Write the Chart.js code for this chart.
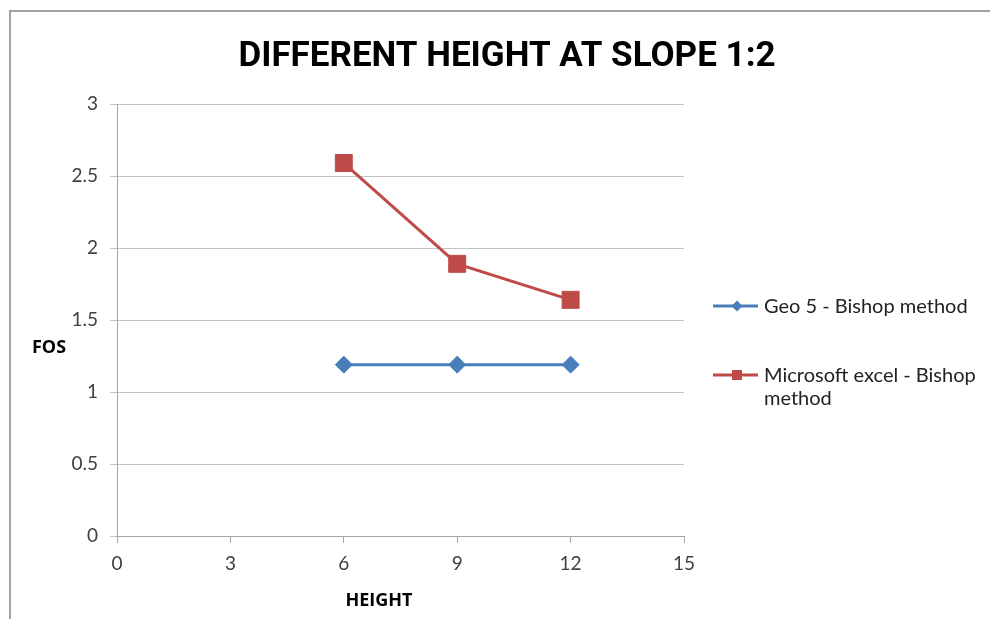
<!DOCTYPE html>
<html>
<head>
<meta charset="utf-8">
<script src="https://cdn.jsdelivr.net/npm/chart.js@4.4.1/dist/chart.umd.min.js"></script>
<style>
  html, body { margin: 0; padding: 0; background: #ffffff; }
  #wrap { position: relative; width: 990px; height: 619px; overflow: hidden; }
  #frame { position: absolute; left: 9px; top: 10px; width: 990px; height: 620px;
           border-left: 2px solid #a2a2a2; border-top: 2px solid #a2a2a2; pointer-events: none; }
  canvas { position: absolute; left: 0; top: 0; }
</style>
</head>
<body>
<div id="wrap">
  <canvas id="chart" width="990" height="619"></canvas>
  <div id="frame"></div>
</div>
<script>
// Slope height vs. factor of safety
const heights = [6, 9, 12];
const geo5Fos = [1.19, 1.19, 1.19];
const excelFos = [2.59, 1.89, 1.64];
const seriesLabels = ['Geo 5 - Bishop method', 'Microsoft excel - Bishop method'];
const chartTitle = 'DIFFERENT HEIGHT AT SLOPE 1:2';
const xAxisTitle = 'HEIGHT';
const yAxisTitle = 'FOS';

const BLUE = '#4a7ebb';
const RED = '#be4b48';
const TEXT = '#404040';
const GRID = '#c3c3c3';
const TICK_FONT = { family: 'Lato, "Open Sans", sans-serif', size: 19 };

const toPoints = (xs, ys) => xs.map((x, i) => ({ x: x, y: ys[i] }));

// Draws a legend marker (line with point) at the given position
function drawMarker(ctx, style, color, cx, cy) {
  ctx.save();
  ctx.strokeStyle = color;
  ctx.lineWidth = 3;
  ctx.beginPath();
  ctx.moveTo(cx - 24, cy);
  ctx.lineTo(cx + 21, cy);
  ctx.stroke();
  ctx.fillStyle = color;
  ctx.beginPath();
  if (style === 'rectRot') {
    const r = 5.5;
    ctx.moveTo(cx, cy - r);
    ctx.lineTo(cx + r, cy);
    ctx.lineTo(cx, cy + r);
    ctx.lineTo(cx - r, cy);
    ctx.closePath();
  } else {
    ctx.rect(cx - 5, cy - 5, 10, 10);
  }
  ctx.fill();
  ctx.restore();
}

// Wraps text into lines that fit maxWidth
function wrapText(ctx, text, maxWidth) {
  const words = text.split(' ');
  const lines = [];
  let line = '';
  words.forEach(w => {
    const test = line ? line + ' ' + w : w;
    if (ctx.measureText(test).width > maxWidth && line) {
      lines.push(line);
      line = w;
    } else {
      line = test;
    }
  });
  if (line) lines.push(line);
  return lines;
}

const decorations = {
  id: 'decorations',
  afterDraw(chart) {
    const ctx = chart.ctx;
    ctx.save();

    // Title
    ctx.fillStyle = '#000000';
    ctx.textAlign = 'center';
    ctx.textBaseline = 'middle';
    ctx.font = 'bold 35px Roboto, sans-serif';
    ctx.fillText(chartTitle, 507, 57);

    // Axis titles
    ctx.font = 'bold 18px "Open Sans", sans-serif';
    ctx.fillStyle = '#000000';
    ctx.fillText(yAxisTitle, 49, 348);
    ctx.fillText(xAxisTitle, 379, 601);

    // Legend
    ctx.font = '20px Lato, "Open Sans", sans-serif';
    ctx.fillStyle = '#222222';
    ctx.textAlign = 'left';
    const legendTops = [307, 376];
    chart.data.datasets.forEach((ds, i) => {
      const y = legendTops[i];
      drawMarker(ctx, ds.pointStyle, ds.borderColor, 737, y - 1);
      const lines = wrapText(ctx, ds.label, 222);
      lines.forEach((ln, j) => ctx.fillText(ln, 764, y + j * 23));
    });
    ctx.restore();
  }
};

new Chart(document.getElementById('chart'), {
  type: 'scatter',
  data: {
    datasets: [
      {
        label: seriesLabels[0],
        data: toPoints(heights, geo5Fos),
        showLine: true,
        borderColor: BLUE,
        backgroundColor: BLUE,
        borderWidth: 3,
        pointStyle: 'rectRot',
        pointRadius: 8.5,
        pointHoverRadius: 8.5,
        pointBorderWidth: 1
      },
      {
        label: seriesLabels[1],
        data: toPoints(heights, excelFos),
        showLine: true,
        borderColor: RED,
        backgroundColor: RED,
        borderWidth: 3,
        pointStyle: 'rect',
        pointRadius: 12,
        pointHoverRadius: 12,
        pointBorderWidth: 1
      }
    ]
  },
  options: {
    responsive: false,
    animation: false,
    devicePixelRatio: 1,
    layout: { padding: { left: 0, right: 306, top: 104, bottom: 0 } },
    plugins: {
      legend: { display: false },
      title: { display: false },
      tooltip: { enabled: false }
    },
    scales: {
      x: {
        type: 'linear',
        min: 0,
        max: 15,
        ticks: { stepSize: 3, color: TEXT, font: TICK_FONT, padding: 9, maxRotation: 0 },
        grid: { drawOnChartArea: false, drawTicks: true, tickLength: 7, color: '#a6a6a6' },
        border: { color: '#a6a6a6', width: 1 },
        afterFit(scale) { scale.height = 83; }
      },
      y: {
        type: 'linear',
        min: 0,
        max: 3,
        ticks: {
          stepSize: 0.5, color: TEXT, font: TICK_FONT, padding: 12,
          callback: v => String(Math.round(v * 10) / 10)
        },
        grid: { color: GRID, drawTicks: true, tickLength: 7 },
        border: { color: '#a6a6a6', width: 1 },
        afterFit(scale) { scale.width = 117; }
      }
    }
  },
  plugins: [decorations]
});
</script>
</body>
</html>
